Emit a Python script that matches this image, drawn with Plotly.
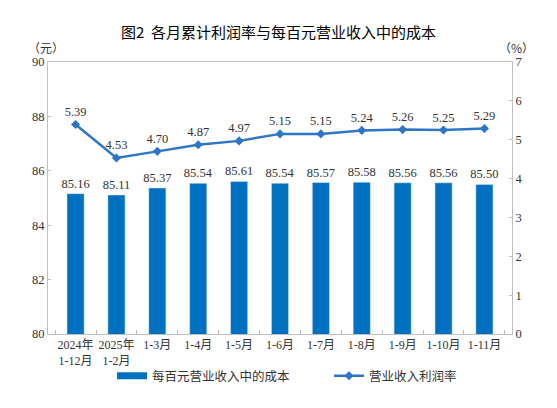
import plotly.graph_objects as go

# данные с картинки
months = ["2024年<br>1-12月", "2025年<br>1-2月", "1-3月", "1-4月", "1-5月", "1-6月",
          "1-7月", "1-8月", "1-9月", "1-10月", "1-11月"]
cost_per_100 = [85.16, 85.11, 85.37, 85.54, 85.61, 85.54, 85.57, 85.58, 85.56, 85.56, 85.50]
profit_rate = [5.39, 4.53, 4.70, 4.87, 4.97, 5.15, 5.15, 5.24, 5.26, 5.25, 5.29]

num_font = "Liberation Serif, Noto Sans CJK SC"
cjk_font = "Noto Sans CJK SC"
axis_grey = "#BFBFBF"
bar_blue = "#0070C0"
line_blue = "#2E75C6"

fig = go.Figure()

fig.add_trace(go.Bar(
    x=months, y=cost_per_100, name="每百元营业收入中的成本",
    marker=dict(color=bar_blue), showlegend=False,
    text=["%.2f" % v for v in cost_per_100], textposition="outside",
    constraintext="none",
    textfont=dict(family=num_font, size=12.5, color="#333333"),
    cliponaxis=False,
))
# только для легенды: широкий прямоугольник как в оригинале
fig.add_trace(go.Scatter(
    x=[None], y=[None], name="每百元营业收入中的成本", mode="lines",
    line=dict(color=bar_blue, width=7),
))

fig.add_trace(go.Scatter(
    x=months, y=profit_rate, name="营业收入利润率", yaxis="y2",
    mode="lines+markers+text",
    line=dict(color=line_blue, width=2.5),
    marker=dict(symbol="diamond", size=7, color=line_blue),
    text=["%.2f" % v for v in profit_rate], textposition="top center",
    textfont=dict(family=num_font, size=12.5, color="#333333"),
    cliponaxis=False,
))

fig.update_layout(
    width=557, height=408,
    margin=dict(l=48, r=45, t=62, b=74, autoexpand=False),
    paper_bgcolor="white", plot_bgcolor="white",
    bargap=0.58,
    showlegend=True,
    legend=dict(orientation="h", x=0.138, xanchor="left", y=-0.155, yanchor="middle",
                bgcolor="rgba(0,0,0,0)",
                font=dict(family=cjk_font, size=12.5, color="#333333"),
                entrywidth=172, itemwidth=30),
    title=dict(text="图2  各月累计利润率与每百元营业收入中的成本", x=0.5, xanchor="center",
               y=0.919, yanchor="middle",
               font=dict(family=cjk_font, size=15, color="#000000")),
    xaxis=dict(showline=True, linecolor=axis_grey, linewidth=1, mirror=True,
               ticks="inside", tickson="boundaries", ticklen=4, tickcolor=axis_grey,
               tickangle=0, automargin=False,
               tickfont=dict(family=num_font, size=12, color="#333333"),
               showgrid=False),
    yaxis=dict(range=[80, 90], dtick=2, showline=True, linecolor=axis_grey, linewidth=1,
               mirror=True, ticks="inside", ticklen=3, tickcolor=axis_grey, automargin=False,
               tickfont=dict(family=num_font, size=12.5, color="#333333"),
               showgrid=False, zeroline=False),
    yaxis2=dict(range=[0, 7], dtick=1, overlaying="y", side="right",
                showline=True, linecolor=axis_grey, ticks="inside", ticklen=3,
                tickcolor=axis_grey, automargin=False,
                tickfont=dict(family=num_font, size=12.5, color="#333333"),
                showgrid=False, zeroline=False),
    annotations=[
        dict(text="（元）", x=-0.047, y=1.055, xref="paper", yref="paper", showarrow=False,
             yanchor="middle", font=dict(family=cjk_font, size=12, color="#333333")),
        dict(text="（%）", x=1.052, y=1.055, xref="paper", yref="paper", showarrow=False,
             yanchor="middle", font=dict(family=cjk_font, size=12, color="#333333")),
    ],
)

fig.write_html("out.html", config={"displayModeBar": False},
               post_script="document.body.style.margin='0px';")
